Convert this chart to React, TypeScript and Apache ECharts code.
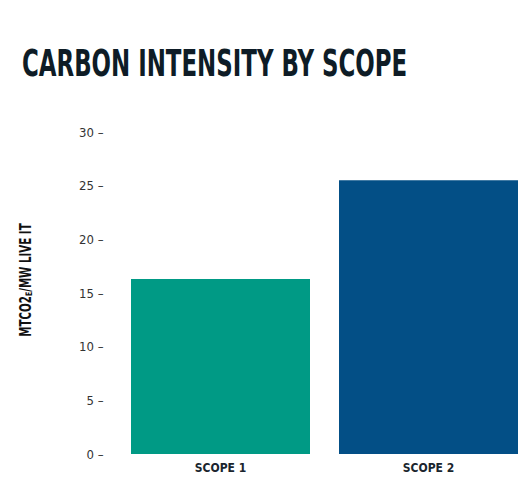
import React, { useEffect, useRef } from "react";
import * as echarts from "echarts";

const categories = ["SCOPE 1", "SCOPE 2"];
const values = [16.3, 25.5];
const barColors = ["#009a85", "#034f86"];
const yTicks = [0, 5, 10, 15, 20, 25, 30];
const titleText = "CARBON INTENSITY BY SCOPE";
const yAxisTitleMain = "MTCO2";
const yAxisTitleSub = "E";
const yAxisTitleRest = "/MW LIVE IT";

const FONT = "'DejaVu Sans Condensed', 'DejaVu Sans', sans-serif";

export default function App() {
  const ref = useRef<HTMLDivElement>(null);
  useEffect(() => {
    document.body.style.margin = "0";
    const chart = echarts.init(ref.current!, undefined, { renderer: "svg" });
    chart.setOption({
      animation: false,
      backgroundColor: "#ffffff",
      graphic: [
        {
          type: "text",
          x: 22,
          y: 44,
          scaleX: 0.67,
          style: {
            text: titleText,
            font: `bold 38px ${FONT}`,
            fill: "#0e1c26",
          },
        },
        {
          type: "text",
          x: 26,
          y: 280,
          rotation: Math.PI / 2,
          scaleX: 0.76,
          style: {
            text: `{m|${yAxisTitleMain}}{s|${yAxisTitleSub}}{m|${yAxisTitleRest}}`,
            align: "center",
            verticalAlign: "middle",
            rich: {
              m: { font: `bold 15px ${FONT}`, fill: "#111111" },
              s: { font: `bold 9px ${FONT}`, fill: "#111111", verticalAlign: "bottom", padding: [5, 0, 0, 0] },
            },
          },
        },
      ],
      grid: { left: 116.5, right: -11.5, top: 132, bottom: 26, outerBoundsMode: "none", containLabel: false },
      xAxis: {
        type: "category",
        data: categories,
        axisLine: { show: false },
        axisTick: { show: false },
        axisLabel: {
          margin: 8,
          fontFamily: FONT,
          fontWeight: "bold",
          fontSize: 12,
          color: "#1a252d",
        },
      },
      yAxis: {
        type: "value",
        min: 0,
        max: yTicks[yTicks.length - 1],
        interval: 5,
        axisLine: { show: false },
        axisTick: { show: false },
        splitLine: { show: false },
        axisLabel: {
          margin: 13,
          fontFamily: FONT,
          fontSize: 13,
          color: "#333333",
          formatter: (v: number) => `${v} –`,
        },
      },
      series: [
        {
          type: "bar",
          barWidth: 179,
          data: values.map((v, i) => ({ value: v, itemStyle: { color: barColors[i] } })),
        },
      ],
    });
    return () => chart.dispose();
  }, []);
  return <div ref={ref} style={{ width: 521, height: 480 }} />;
}
